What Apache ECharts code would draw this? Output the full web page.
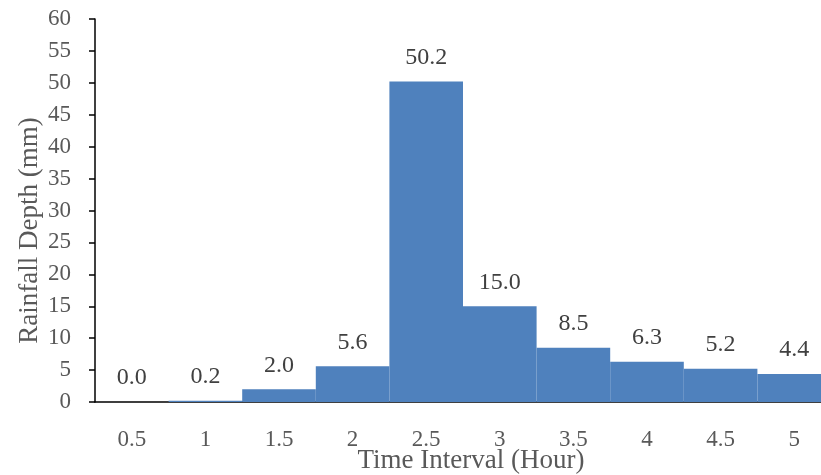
<!DOCTYPE html>
<html>
<head>
<meta charset="utf-8">
<script src="https://cdn.jsdelivr.net/npm/echarts@6/dist/echarts.min.js"></script>
<style>
html,body{margin:0;padding:0;background:#fff;}
#chart{width:821px;height:475px;}
</style>
</head>
<body>
<div id="chart"></div>
<script>
var categories = ['0.5','1','1.5','2','2.5','3','3.5','4','4.5','5'];
var rainfall = [0.0, 0.2, 2.0, 5.6, 50.2, 15.0, 8.5, 6.3, 5.2, 4.4];
var yMin = 0, yMax = 60, yStep = 5;

var FONT = 'Liberation Serif';
var chart = echarts.init(document.getElementById('chart'), null, {renderer:'canvas'});
chart.setOption({
  animation: false,
  backgroundColor: '#ffffff',
  grid: {left: 95, top: 19, width: 736, height: 383, containLabel: false, outerBoundsMode: 'none'},
  xAxis: {
    type: 'category',
    data: categories,
    name: 'Time Interval (Hour)',
    nameLocation: 'middle',
    nameGap: 45,
    nameMoveOverlap: false,
    nameTextStyle: {fontFamily: FONT, fontSize: 27, color: '#595959', padding: [0, 0, 0, 16]},
    axisLine: {lineStyle: {color: '#000', width: 1.5}},
    axisTick: {show: false},
    axisLabel: {fontFamily: FONT, fontSize: 23, color: '#595959', margin: 26},
    splitLine: {show: false}
  },
  yAxis: {
    type: 'value',
    min: yMin, max: yMax, interval: yStep,
    name: 'Rainfall Depth (mm)',
    nameLocation: 'middle',
    nameGap: 52,
    nameMoveOverlap: false,
    nameTextStyle: {fontFamily: FONT, fontSize: 27, color: '#595959', padding: [0, 40, 0, 0]},
    axisLine: {show: true, lineStyle: {color: '#000', width: 1.5}},
    axisTick: {show: true, length: 6, lineStyle: {color: '#000', width: 1.5}},
    axisLabel: {fontFamily: FONT, fontSize: 23, color: '#595959', margin: 24},
    splitLine: {show: false}
  },
  series: [{
    type: 'bar',
    data: rainfall,
    barCategoryGap: '0%',
    itemStyle: {color: '#4f81bd'},
    label: {
      show: true,
      position: 'top',
      distance: 12,
      fontFamily: FONT,
      fontSize: 24,
      color: '#404040',
      formatter: function (p) { return p.value.toFixed(1); }
    }
  }]
});
</script>
</body>
</html>
